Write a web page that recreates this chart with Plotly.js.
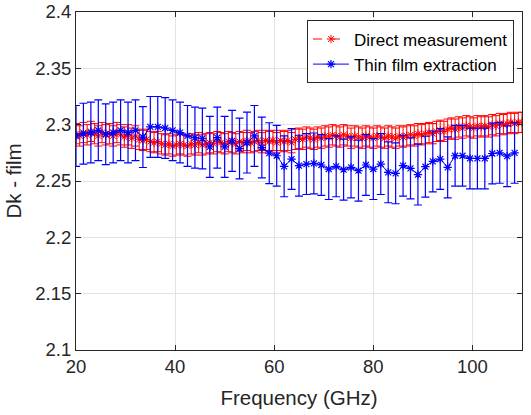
<!DOCTYPE html>
<html>
<head>
<meta charset="utf-8">
<script src="https://cdn.plot.ly/plotly-3.0.1.min.js"></script>
<style>html,body{margin:0;padding:0;background:#fff;}#chart{width:531px;height:415px;}</style>
</head>
<body>
<div id="chart"></div>
<script>
// Direct measurement (red), frequency in GHz
const directFreq = [20,20.75,21.5,22.25,23,23.75,24.5,25.25,26,26.75,27.5,28.25,29,29.75,30.5,31.25,32,32.75,33.5,34.25,35,35.75,36.5,37.25,38,38.75,39.5,40.25,41,41.75,42.5,43.25,44,44.75,45.5,46.25,47,47.75,48.5,49.25,50,50.75,51.5,52.25,53,53.75,54.5,55.25,56,56.75,57.5,58.25,59,59.75,60.5,61.25,62,62.75,63.5,64.25,65,65.75,66.5,67.25,68,68.75,69.5,70.25,71,71.75,72.5,73.25,74,74.75,75.5,76.25,77,77.75,78.5,79.25,80,80.75,81.5,82.25,83,83.75,84.5,85.25,86,86.75,87.5,88.25,89,89.75,90.5,91.25,92,92.75,93.5,94.25,95,95.75,96.5,97.25,98,98.75,99.5,100.25,101,101.75,102.5,103.25,104,104.75,105.5,106.25,107,107.75,108.5,109.25,110];
const directDk = [2.292,2.290,2.293,2.291,2.294,2.292,2.290,2.293,2.291,2.292,2.290,2.293,2.291,2.289,2.291,2.288,2.290,2.287,2.286,2.287,2.285,2.284,2.285,2.283,2.282,2.283,2.281,2.282,2.283,2.282,2.281,2.283,2.282,2.284,2.282,2.283,2.284,2.283,2.285,2.284,2.283,2.285,2.284,2.283,2.285,2.284,2.286,2.284,2.285,2.286,2.284,2.286,2.285,2.286,2.284,2.286,2.285,2.286,2.284,2.287,2.288,2.287,2.289,2.288,2.287,2.289,2.288,2.290,2.289,2.291,2.290,2.289,2.291,2.290,2.288,2.290,2.289,2.288,2.290,2.289,2.288,2.290,2.289,2.288,2.290,2.289,2.288,2.290,2.289,2.290,2.291,2.290,2.292,2.291,2.292,2.293,2.292,2.294,2.295,2.294,2.296,2.297,2.296,2.298,2.297,2.299,2.298,2.297,2.299,2.298,2.299,2.298,2.300,2.299,2.301,2.300,2.301,2.302,2.301,2.302,2.302];
const directErr = [0.009,0.009,0.009,0.009,0.009,0.009,0.009,0.009,0.009,0.009,0.009,0.009,0.009,0.009,0.009,0.009,0.009,0.009,0.009,0.009,0.009,0.009,0.009,0.009,0.009,0.009,0.009,0.009,0.009,0.009,0.009,0.009,0.009,0.009,0.009,0.009,0.009,0.009,0.009,0.009,0.009,0.009,0.009,0.009,0.009,0.009,0.009,0.009,0.009,0.009,0.009,0.009,0.009,0.009,0.009,0.009,0.009,0.009,0.009,0.009,0.009,0.009,0.009,0.009,0.009,0.009,0.009,0.009,0.009,0.009,0.009,0.009,0.009,0.009,0.009,0.009,0.009,0.009,0.009,0.009,0.009,0.009,0.009,0.009,0.009,0.009,0.009,0.009,0.009,0.009,0.009,0.009,0.009,0.009,0.009,0.009,0.009,0.009,0.009,0.009,0.009,0.009,0.009,0.009,0.009,0.009,0.009,0.009,0.009,0.009,0.009,0.009,0.009,0.009,0.009,0.009,0.009,0.009,0.009,0.009,0.009];

// Thin film extraction (blue)
const thinFreq = [20,21.5,23,24.5,26,27.5,29,30.5,32,33.5,35,36.5,38,39.5,41,42.5,44,45.5,47,48.5,50,51.5,53,54.5,56,57.5,59,60.5,62,63.5,65,66.5,68,69.5,71,72.5,74,75.5,77,78.5,80,81.5,83,84.5,86,87.5,89,90.5,92,93.5,95,96.5,98,99.5,101,102.5,104,105.5,107,108.5];
const thinDk = [2.290,2.292,2.293,2.295,2.2915,2.293,2.295,2.293,2.295,2.289,2.298,2.298,2.297,2.295,2.293,2.290,2.2885,2.2877,2.2803,2.2885,2.2803,2.2856,2.2788,2.2841,2.290,2.2797,2.2747,2.2724,2.263,2.2695,2.2636,2.265,2.2656,2.2642,2.2606,2.263,2.2601,2.2621,2.2592,2.2642,2.2606,2.265,2.2577,2.2568,2.2636,2.2612,2.2557,2.2627,2.2674,2.2695,2.2621,2.2724,2.2724,2.270,2.270,2.270,2.2744,2.275,2.272,2.275];
const thinErr = [0.027,0.027,0.027,0.027,0.027,0.027,0.027,0.027,0.027,0.027,0.027,0.027,0.027,0.027,0.027,0.027,0.027,0.027,0.027,0.027,0.027,0.027,0.027,0.027,0.027,0.027,0.027,0.027,0.027,0.027,0.027,0.027,0.027,0.027,0.027,0.027,0.027,0.027,0.027,0.027,0.027,0.027,0.027,0.027,0.027,0.027,0.027,0.027,0.027,0.027,0.027,0.027,0.027,0.027,0.027,0.027,0.027,0.027,0.027,0.027];

const xTicks = [20,40,60,80,100];
const yTickVals = [2.1,2.15,2.2,2.25,2.3,2.35,2.4];
const yTickText = ['2.1','2.15','2.2','2.25','2.3','2.35','2.4'];
const seriesNames = ['Direct measurement','Thin film extraction'];

const FONT = 'Liberation Sans, Arial, sans-serif';
const AX = '#262626';

const traces = [
  {
    x: directFreq, y: directDk, name: seriesNames[0], type: 'scatter', mode: 'lines+markers',
    line: {color: '#ff0000', width: 1, dash: 'dash'},
    marker: {symbol: 'asterisk-open', size: 7, color: '#ff0000', line: {color: '#ff0000', width: 1}},
    error_y: {type: 'data', array: directErr, visible: true, color: '#ff0000', thickness: 1, width: 4}
  },
  {
    x: thinFreq, y: thinDk, name: seriesNames[1], type: 'scatter', mode: 'lines+markers',
    line: {color: '#0000ff', width: 1},
    marker: {symbol: 'asterisk-open', size: 7, color: '#0000ff', line: {color: '#0000ff', width: 1.2}},
    error_y: {type: 'data', array: thinErr, visible: true, color: '#0000ff', thickness: 1.2, width: 4}
  }
];

const layout = {
  width: 531, height: 415,
  margin: {l: 76, r: 9, t: 12, b: 65},
  paper_bgcolor: '#ffffff', plot_bgcolor: '#ffffff',
  font: {family: FONT, color: AX},
  showlegend: true,
  legend: {
    x: 0.982, xanchor: 'right', y: 0.975, yanchor: 'top',
    bgcolor: '#ffffff', bordercolor: AX, borderwidth: 1,
    font: {family: FONT, size: 17, color: '#000000'},
    itemwidth: 36, tracegroupgap: 0
  },
  xaxis: {
    range: [20, 110], tickvals: xTicks, ticktext: xTicks.map(String),
    ticks: 'inside', ticklen: 5, tickcolor: AX, mirror: 'ticks',
    showline: true, linecolor: AX, linewidth: 1,
    showgrid: true, gridcolor: '#e3e3e3', gridwidth: 1, zeroline: false,
    ticklabeloverflow: 'allow',
    tickfont: {family: FONT, size: 18.5, color: AX},
    title: {text: 'Frequency (GHz)', font: {family: FONT, size: 20.5, color: AX}, standoff: 14}
  },
  yaxis: {
    range: [2.1, 2.4], tickvals: yTickVals, ticktext: yTickText,
    ticks: 'inside', ticklen: 5, tickcolor: AX, mirror: 'ticks',
    showline: true, linecolor: AX, linewidth: 1,
    showgrid: true, gridcolor: '#e3e3e3', gridwidth: 1, zeroline: false,
    ticklabeloverflow: 'allow',
    tickfont: {family: FONT, size: 18.5, color: AX},
    title: {text: 'Dk - film', font: {family: FONT, size: 20.5, color: AX}, standoff: 8}
  }
};

Plotly.newPlot('chart', traces, layout, {displayModeBar: false, staticPlot: true});
</script>
</body>
</html>
